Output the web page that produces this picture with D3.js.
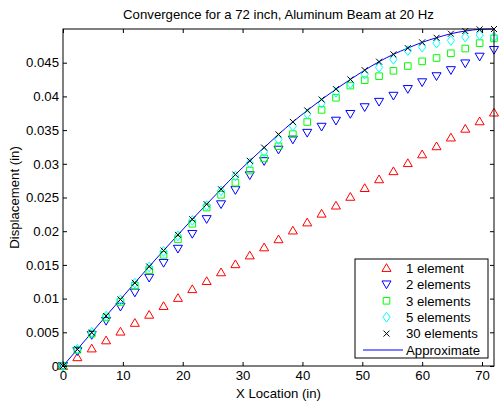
<!DOCTYPE html>
<html>
<head>
<meta charset="utf-8">
<script src="https://cdn.jsdelivr.net/npm/d3@7"></script>
<style>
  body { margin: 0; background: #fff; }
  text { font-family: "Liberation Sans", Arial, sans-serif; fill: #000; }
</style>
</head>
<body>
<div id="chart"></div>
<script>
// sample locations along the beam (in)
const xLoc = [0, 2.4, 4.8, 7.2, 9.6, 12, 14.4, 16.8, 19.2, 21.6, 24, 26.4, 28.8, 31.2, 33.6, 36,
    38.4, 40.8, 43.2, 45.6, 48, 50.4, 52.8, 55.2, 57.6, 60, 62.4, 64.8, 67.2, 69.6, 72]

const oneElem = [0, 0.0013, 0.0026, 0.0038, 0.0051, 0.0064, 0.0076, 0.0089, 0.0101, 0.0114, 0.0126,
    0.0139, 0.0151, 0.0164, 0.0176, 0.0188, 0.0201, 0.0213, 0.0226, 0.0238, 0.0251,
    0.0264, 0.0277, 0.0289, 0.0301, 0.0314, 0.0326, 0.0339, 0.0352, 0.0363, 0.0376]
const twoElem = [0, 0.0022, 0.0046, 0.0067, 0.0088, 0.0109, 0.0131, 0.0153, 0.0174, 0.0196, 0.0218,
    0.0240, 0.0261, 0.0283, 0.0304, 0.0321, 0.0336, 0.0346, 0.0355, 0.0364, 0.0374,
    0.0384, 0.0392, 0.0401, 0.0411, 0.0421, 0.0430, 0.0439, 0.0449, 0.0459, 0.0469]
const threeElem = [0, 0.0024, 0.0048, 0.0072, 0.0095, 0.0119, 0.0142, 0.0165, 0.0188, 0.0211, 0.0235,
    0.0254, 0.0272, 0.0290, 0.0308, 0.0326, 0.0344, 0.0362, 0.0380, 0.0398, 0.0416,
    0.0424, 0.0430, 0.0438, 0.0445, 0.0452, 0.0457, 0.0464, 0.0471, 0.0479, 0.0486]
const fiveElem = [0, 0.0025, 0.0050, 0.0074, 0.0098, 0.0123, 0.0147, 0.0170, 0.0193, 0.0216, 0.0238,
    0.0260, 0.0282, 0.0301, 0.0318, 0.0336, 0.0356, 0.0374, 0.0390, 0.0406, 0.0419,
    0.0433, 0.0443, 0.0455, 0.0468, 0.0473, 0.0479, 0.0483, 0.0488, 0.0491, 0.0488]
const thirtyElem = [0, 0.00247, 0.00496, 0.00742, 0.00988, 0.01234, 0.01476, 0.01713, 0.01946, 0.02177, 0.02400,
    0.02622, 0.02840, 0.03044, 0.03240, 0.03436, 0.03621, 0.03792, 0.03954, 0.04108, 0.04252,
    0.04389, 0.04515, 0.04624, 0.04716, 0.04802, 0.04870, 0.04930, 0.04970, 0.04994, 0.05000]
const approx = [0, 0.00247, 0.00496, 0.00742, 0.00988, 0.01234, 0.01476, 0.01713, 0.01946, 0.02177, 0.02400,
    0.02622, 0.02840, 0.03044, 0.03240, 0.03436, 0.03621, 0.03792, 0.03954, 0.04108, 0.04252,
    0.04389, 0.04515, 0.04624, 0.04716, 0.04802, 0.04870, 0.04930, 0.04970, 0.04994, 0.05000]

const xTicks = [0, 10, 20, 30, 40, 50, 60, 70]
const yTicks = [0, 0.005, 0.01, 0.015, 0.02, 0.025, 0.03, 0.035, 0.04, 0.045]
const yTickLabels = ['0', '0.005', '0.01', '0.015', '0.02', '0.025', '0.03', '0.035', '0.04', '0.045']

const seriesNames = ['1 element', '2 elements', '3 elements', '5 elements', '30 elements', 'Approximate']

const W = 500, H = 407
const margin = { top: 29, right: 6, bottom: 41, left: 63 }
const fs = '13.2px'

const svg = d3.select('#chart').append('svg')
    .attr('width', W).attr('height', H)

const x = d3.scaleLinear().domain([0, 72]).range([margin.left, W - margin.right])
const y = d3.scaleLinear().domain([0, 0.05]).range([H - margin.bottom, margin.top])

// markers like matlab's
const markers = {
    up: (s) => `M0,${-s}L${s * 1.05},${s * 0.8}L${-s * 1.05},${s * 0.8}Z`,
    down: (s) => `M0,${s}L${s * 1.05},${-s * 0.8}L${-s * 1.05},${-s * 0.8}Z`,
    square: (s) => `M${-s},${-s}H${s}V${s}H${-s}Z`,
    diamond: (s) => `M0,${-s * 1.35}L${s},0L0,${s * 1.35}L${-s},0Z`,
    cross: (s) => `M${-s},${-s}L${s},${s}M${-s},${s}L${s},${-s}`,
}

const series = [
    { vals: oneElem, color: '#ff0000', m: 'up', s: 4.3 },
    { vals: twoElem, color: '#0000ff', m: 'down', s: 4.3 },
    { vals: threeElem, color: '#00ff00', m: 'square', s: 3.3 },
    { vals: fiveElem, color: '#00ffff', m: 'diamond', s: 3.6 },
    { vals: thirtyElem, color: '#000000', m: 'cross', s: 3 },
]

const plot = svg.append('g')

// approximate curve
plot.append('path')
    .datum(approx)
    .attr('fill', 'none')
    .attr('stroke', '#0000ff')
    .attr('stroke-width', 1)
    .attr('d', d3.line().x((d, i) => x(xLoc[i])).y(d => y(d)).curve(d3.curveMonotoneX))

series.forEach(sr => {
    plot.append('g').selectAll('path')
        .data(sr.vals)
        .join('path')
        .attr('transform', (d, i) => `translate(${x(xLoc[i])},${y(d)})`)
        .attr('d', markers[sr.m](sr.s))
        .attr('fill', 'none')
        .attr('stroke', sr.color)
        .attr('stroke-width', 1)
})

// axes box with inward ticks
const styleAxis = (g) => {
    g.select('.domain').remove()
    g.selectAll('line').attr('stroke', '#000')
    g.selectAll('text').style('font-size', fs).style('font-family', '"Liberation Sans", Arial, sans-serif')
}
svg.append('g').attr('transform', `translate(0,${y(0)})`)
    .call(d3.axisBottom(x).tickValues(xTicks).tickSize(-4).tickPadding(5))
    .call(styleAxis)
svg.append('g').attr('transform', `translate(0,${y(0.05)})`)
    .call(d3.axisTop(x).tickValues(xTicks).tickSize(-4).tickFormat(''))
    .call(styleAxis)
svg.append('g').attr('transform', `translate(${x(0)},0)`)
    .call(d3.axisLeft(y).tickValues(yTicks).tickSize(-4).tickPadding(4)
        .tickFormat((d, i) => yTickLabels[i]))
    .call(styleAxis)
svg.append('g').attr('transform', `translate(${x(72)},0)`)
    .call(d3.axisRight(y).tickValues(yTicks).tickSize(-4).tickFormat(''))
    .call(styleAxis)

svg.append('rect')
    .attr('x', x(0)).attr('y', y(0.05))
    .attr('width', x(72) - x(0)).attr('height', y(0) - y(0.05))
    .attr('fill', 'none').attr('stroke', '#000').attr('stroke-width', 1)

// titles
svg.append('text')
    .attr('x', (x(0) + x(72)) / 2).attr('y', 19)
    .attr('text-anchor', 'middle').style('font-size', fs)
    .text('Convergence for a 72 inch, Aluminum Beam at 20 Hz')
svg.append('text')
    .attr('x', (x(0) + x(72)) / 2).attr('y', 398)
    .attr('text-anchor', 'middle').style('font-size', fs)
    .text('X Location (in)')
svg.append('text')
    .attr('transform', `translate(19,${(y(0) + y(0.05)) / 2}) rotate(-90)`)
    .attr('text-anchor', 'middle').style('font-size', fs)
    .text('Displacement (in)')

// legend
const lg = svg.append('g').attr('transform', 'translate(355,259)')
lg.append('rect')
    .attr('width', 133).attr('height', 99)
    .attr('fill', '#fff').attr('stroke', '#000').attr('stroke-width', 1)
seriesNames.forEach((name, i) => {
    const ly = 9 + i * 16.4
    if (i < series.length) {
        const sr = series[i]
        lg.append('path')
            .attr('transform', `translate(31.5,${ly})`)
            .attr('d', markers[sr.m](sr.s))
            .attr('fill', 'none').attr('stroke', sr.color)
    } else {
        lg.append('line')
            .attr('x1', 8).attr('x2', 48).attr('y1', ly).attr('y2', ly)
            .attr('stroke', '#0000ff')
    }
    lg.append('text')
        .attr('x', 51).attr('y', ly + 4.7)
        .style('font-size', fs)
        .text(name)
})
</script>
</body>
</html>
